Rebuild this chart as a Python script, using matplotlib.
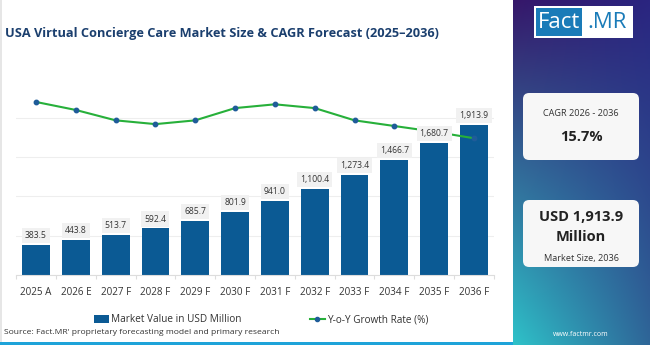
import numpy as np
import matplotlib
matplotlib.use("Agg")
import matplotlib.pyplot as plt
from matplotlib.patches import FancyBboxPatch, Rectangle
from matplotlib.lines import Line2D

plt.rcParams['font.family'] = ['Open Sans', 'DejaVu Sans']

categories = ["2025 A", "2026 E", "2027 F", "2028 F", "2029 F", "2030 F",
              "2031 F", "2032 F", "2033 F", "2034 F", "2035 F", "2036 F"]
market_value = [383.5, 443.8, 513.7, 592.4, 685.7, 801.9, 941.0, 1100.4,
                1273.4, 1466.7, 1680.7, 1913.9]
yoy_growth = [18.35, 17.5, 16.4, 16.0, 16.4, 17.7, 18.1, 17.7, 16.4, 15.8, 15.2, 14.5]
value_labels = ["383.5", "443.8", "513.7", "592.4", "685.7", "801.9", "941.0",
                "1,100.4", "1,273.4", "1,466.7", "1,680.7", "1,913.9"]

W, H = 650, 345
fig = plt.figure(figsize=(6.5, 3.45), dpi=100)
fig.patch.set_facecolor("white")

def fx(px):
    return px / W

def fy(py):
    return 1 - py / H

# bottom strip and faint left border
fig.add_artist(Rectangle((0, 0), fx(513), (H - 341.5) / H, transform=fig.transFigure,
                         facecolor="#1ea3d9", edgecolor="none", zorder=0))
fig.add_artist(Rectangle((0, (H - 341.5) / H), fx(1.5), 341.5 / H, transform=fig.transFigure,
                         facecolor="#e6e6e6", edgecolor="none", zorder=0))

# ---- main chart axes
ax_left, ax_right = 16.1, 493.9
ax_bottom, ax_top = 275.0, 86.4
ax = fig.add_axes([fx(ax_left), fy(ax_bottom), (ax_right - ax_left) / W, (ax_bottom - ax_top) / H])
x = np.arange(len(categories))
bar_color = "#0b5a94"
ax.bar(x, market_value, width=0.70, color=bar_color, zorder=2)
ax.set_xlim(-0.5, 11.5)
ax.set_ylim(0, 2400)
ax.set_yticks([0, 500, 1000, 1500, 2000])
ax.yaxis.grid(True, color="#eeeeee", linewidth=0.8, zorder=0)
ax.set_axisbelow(True)

ax2 = ax.twinx()
ax2.set_ylim(0, 20)
ax2.plot(x, yoy_growth, color="#27b03a", linewidth=1.5, zorder=3,
         marker="o", markersize=3.2, markerfacecolor="#1f5c99", markeredgecolor="#1f5c99")
ax2.axis("off")

ax.tick_params(axis="y", left=False, right=False, labelleft=False, labelright=False)
for s in ["top", "right", "left"]:
    ax.spines[s].set_visible(False)
ax.spines["bottom"].set_color("#dddddd")
ax.spines["bottom"].set_linewidth(0.8)
ax.set_xticks(x)
ax.set_xticklabels(categories, fontsize=7.1, color="#333333")
ax.tick_params(axis="x", length=0, pad=8.5)
ax.set_xticks(np.arange(-0.5, 12, 1), minor=True)
ax.tick_params(axis="x", which="minor", length=3, color="#dddddd", width=0.8)

for xi, v, lab in zip(x, market_value, value_labels):
    ax2.annotate(lab, (xi, v), xycoords=ax.transData, xytext=(0, 6.8), textcoords="offset points",
                 ha="center", va="center", fontsize=6.2, color="#333333", zorder=6,
                 bbox=dict(boxstyle="square,pad=0.35", facecolor="#f1f1f1", edgecolor="none"))

# ---- title
fig.text(fx(5), fy(33), "USA Virtual Concierge Care Market Size & CAGR Forecast (2025\u20132036)",
         fontsize=9.2, fontweight="bold", color="#1b3f6e", ha="left", va="center")

# ---- legend
leg_handles = [Rectangle((0, 0), 1, 1, facecolor=bar_color, edgecolor="none"),
               Line2D([0], [0], color="#27b03a", linewidth=1.5, marker="o", markersize=3,
                      markerfacecolor="#1f5c99", markeredgecolor="#1f5c99")]
fig.legend(leg_handles, ["Market Value in USD Million", "Y-o-Y Growth Rate (%)"],
           loc="center", bbox_to_anchor=(fx(261), fy(320)), ncol=2, frameon=False,
           fontsize=7.2, handlelength=1.5, handletextpad=0.2, columnspacing=6.8,
           labelcolor="#333333", handleheight=0.9)

# ---- source
fig.text(fx(4), fy(332.5), "Source: Fact.MR' proprietary forecasting model and primary research",
         fontsize=6.1, color="#333333", ha="left", va="center")

# ---- right panel with gradient
px0 = 513
pax = fig.add_axes([fx(px0), 0, (W - px0) / W, 1])
tl = np.array([0x36, 0x17, 0x6a]) / 255
tr = np.array([0x2a, 0x25, 0x80]) / 255
bl = np.array([0x2e, 0xc2, 0xc9]) / 255
br = np.array([0x2f, 0x66, 0x98]) / 255
ny, nx = 200, 80
u = np.linspace(0, 1, nx)[None, :, None]
v = np.linspace(0, 1, ny)[:, None, None]
img = (1 - v) * ((1 - u) * tl + u * tr) + v * ((1 - u) * bl + u * br)
pax.imshow(img, extent=[0, 1, 0, 1], aspect="auto", origin="upper")
pax.set_xlim(0, 1)
pax.set_ylim(0, 1)
pax.axis("off")

pw = W - px0

def px_(p):
    return (p - px0) / pw

def py_(p):
    return 1 - p / H

# logo
pax.add_patch(Rectangle((px_(534), py_(37.7)), px_(632.7) - px_(534), py_(6) - py_(37.7),
                        facecolor="white", edgecolor="none", zorder=3))
pax.add_patch(Rectangle((px_(536), py_(35.5)), px_(582) - px_(536), py_(8) - py_(35.5),
                        facecolor="#1a7bb8", edgecolor="none", zorder=4))
pax.text(px_(559), py_(22.5), "Fact", fontsize=16, color="white", ha="center", va="center",
         zorder=5, family=["Open Sans", "DejaVu Sans"])
pax.text(px_(607), py_(22.5), ".MR", fontsize=16, color="#1a7bb8", ha="center", va="center",
         zorder=5, family=["Open Sans", "DejaVu Sans"])

# cards
cx = px_(581)
for (top, bot) in [(93, 160), (200, 267)]:
    pax.add_patch(FancyBboxPatch((px_(523), py_(bot)), px_(639) - px_(523), py_(top) - py_(bot),
                                 boxstyle="round,pad=0,rounding_size=0.045",
                                 mutation_aspect=pw / H,
                                 facecolor="#f7f7f7", edgecolor="none", zorder=3))
pax.text(cx, py_(114), "CAGR 2026 - 2036", fontsize=6.6, color="#333333", ha="center", va="center", zorder=5)
pax.text(cx, py_(137), "15.7%", fontsize=10.5, fontweight="bold", color="#222222", ha="center", va="center", zorder=5)
pax.text(cx, py_(217), "USD 1,913.9", fontsize=10.5, fontweight="bold", color="#222222", ha="center", va="center", zorder=5)
pax.text(cx, py_(237), "Million", fontsize=10.5, fontweight="bold", color="#222222", ha="center", va="center", zorder=5)
pax.text(cx, py_(258), "Market Size, 2036", fontsize=6.6, color="#333333", ha="center", va="center", zorder=5)
pax.text(cx, py_(335), "www.factmr.com", fontsize=5, color="white", ha="center", va="center", zorder=5)

fig.savefig("out.png", dpi=100)
